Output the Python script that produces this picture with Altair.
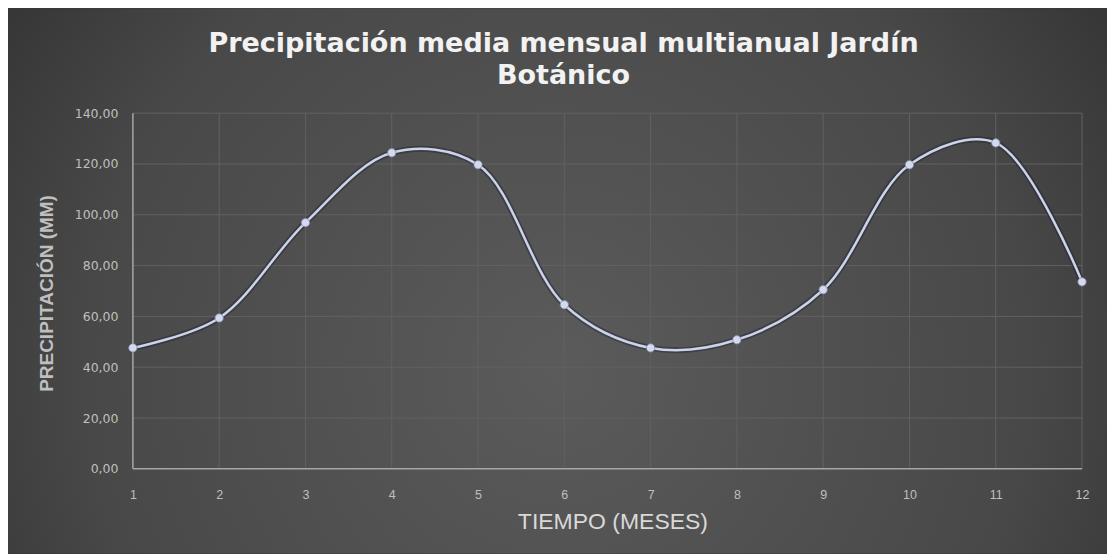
import altair as alt
import pandas as pd

# ---- data ----
months = [1, 2, 3, 4, 5, 6, 7, 8, 9, 10, 11, 12]
precip = [47.6, 59.4, 96.9, 124.4, 119.7, 64.6, 47.6, 50.8, 70.5, 119.7, 128.3, 73.6]
y_ticks = [0, 20, 40, 60, 80, 100, 120, 140]
title_lines = ["Precipitación media mensual multianual Jardín", "Botánico"]
x_title = "TIEMPO (MESES)"
y_title = "PRECIPITACIÓN (MM)"

W, H = 950, 356
PAD = {"left": 125, "top": 105, "right": 25, "bottom": 85}

df = pd.DataFrame({"mes": months, "precip": precip})
ygrid = pd.DataFrame({"precip": y_ticks[1:]})
xgrid = pd.DataFrame({"mes": months[1:]})
ydom = pd.DataFrame({"mes": [months[0]]})
xdom = pd.DataFrame({"precip": [y_ticks[0]]})
bg = pd.DataFrame({"a": [0]})

xscale = alt.Scale(domain=[1, 12], nice=False, zero=False)
yscale = alt.Scale(domain=[0, 140], nice=False)

comma_fmt = "replace(format(datum.value, '.2f'), '.', ',')"

x_axis = alt.Axis(
    title=x_title, values=months, grid=False, domain=False, ticks=False,
    tickSize=0, labelPadding=20, labelFontSize=12.5, labelColor="#bfbfbf",
    labelFlush=False, labelBound=False,
    labelFont="Liberation Sans", titleFont="Liberation Sans",
    titleFontSize=23, titleFontWeight="normal", titleColor="#d9d9d9",
    titleX=480, titleY=53, titleBaseline="middle", zindex=1,
)
y_axis = alt.Axis(
    title=y_title, values=y_ticks, grid=False, domain=False, ticks=False,
    tickSize=0, labelPadding=15, labelFontSize=12.5, labelColor="#bfbfbf",
    labelExpr=comma_fmt, labelFont="DejaVu Sans", labelFlush=False,
    titleFont="Liberation Sans", titleFontSize=19, titleFontWeight="bold",
    titleColor="#bfbfbf", titleX=-86, titleY=180, titleBaseline="middle",
    zindex=1,
)

gradient = alt.RadialGradient(
    gradient="radial",
    stops=[
        alt.GradientStop(color="#5b5b5b", offset=0),
        alt.GradientStop(color="#484848", offset=0.55),
        alt.GradientStop(color="#232323", offset=1),
    ],
    x1=0.5, y1=0.58, r1=0, x2=0.5, y2=0.58, r2=0.78,
)

background = alt.Chart(bg).mark_rect(fill=gradient).encode(
    x=alt.value(-PAD["left"]), x2=alt.value(W + PAD["right"]),
    y=alt.value(-PAD["top"]), y2=alt.value(H + PAD["bottom"]),
)

hgrid = alt.Chart(ygrid).mark_rule(color="#616161", strokeWidth=1).encode(
    y=alt.Y("precip:Q", scale=yscale, axis=y_axis)
)
vgrid = alt.Chart(xgrid).mark_rule(color="#616161", strokeWidth=1).encode(
    x=alt.X("mes:Q", scale=xscale, axis=x_axis)
)
ydomain = alt.Chart(ydom).mark_rule(color="#a6a6a6", strokeWidth=1.5).encode(
    x=alt.X("mes:Q", scale=xscale, axis=x_axis)
)
xdomain = alt.Chart(xdom).mark_rule(color="#a6a6a6", strokeWidth=1.5).encode(
    y=alt.Y("precip:Q", scale=yscale, axis=y_axis)
)

base = alt.Chart(df).encode(
    x=alt.X("mes:Q", scale=xscale, axis=x_axis),
    y=alt.Y("precip:Q", scale=yscale, axis=y_axis),
)

shadow = base.mark_line(
    interpolate="catmull-rom", color="#1e2433", strokeWidth=6, opacity=0.45
)
line = base.mark_line(interpolate="catmull-rom", color="#cdd3e8", strokeWidth=2.5)
points = base.mark_point(
    filled=True, shape="circle", size=70, color="#d4d9ee", opacity=1,
    stroke="#7d86a6", strokeWidth=0.8,
)

chart = alt.layer(
    background, hgrid, vgrid, ydomain, xdomain, shadow, line, points
).properties(
    width=W, height=H,
    padding=PAD,
    autosize=alt.AutoSizeParams(type="none"),
    title=alt.TitleParams(
        text=title_lines, anchor="middle", orient="top", offset=-82, dx=-44,
        font="DejaVu Sans", fontSize=27, fontWeight="bold", color="#f2f2f2",
        lineHeight=32, zindex=1,
    ),
).configure(background="#2e2e2e").configure_view(stroke=None)

chart.save("out.html", embed_options={"renderer": "svg", "actions": False})
